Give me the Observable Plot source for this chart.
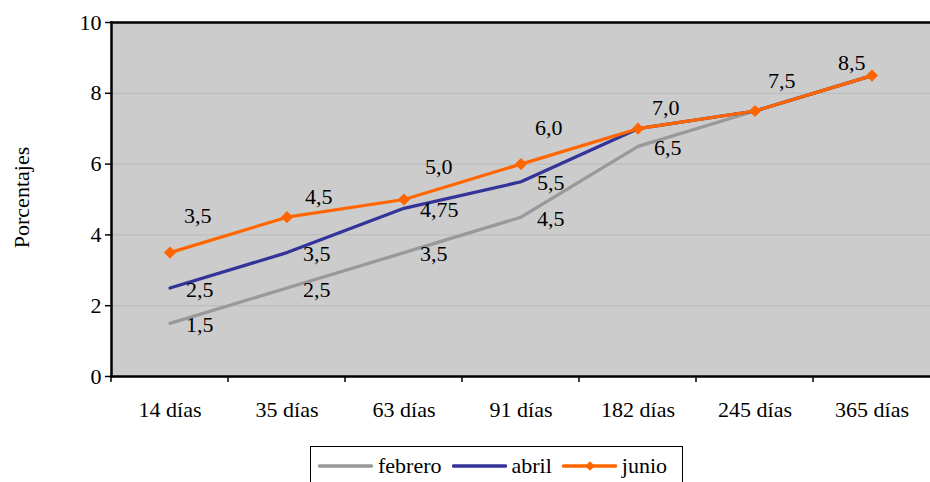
<!DOCTYPE html>
<html>
<head>
<meta charset="utf-8">
<script src="https://cdn.jsdelivr.net/npm/d3@7"></script>
<script src="https://cdn.jsdelivr.net/npm/@observablehq/plot@0.6"></script>
<style>
  body { margin: 0; background: #fff; font-family: 'Liberation Serif', 'Times New Roman', serif; }
  #chart svg { display: block; }
  #chart svg, #chart svg text { font-family: 'Liberation Serif', 'Times New Roman', serif !important; }
  .legend { position: absolute; left: 310px; top: 446px; width: 373px; height: 42px; border: 1px solid #000; box-sizing: border-box; display: flex; align-items: flex-start; padding-top: 6px; padding-left: 7px; font-size: 22px; color: #000; font-family: 'Liberation Serif', 'Times New Roman', serif; }
  .legend .item { display: flex; align-items: center; margin-right: 10px; }
  .legend .item svg { margin-right: 5px; }
  .legend .item span { line-height: 26px; }
</style>
</head>
<body>
<div id="chart"></div>
<div class="legend" id="legend"></div>
<script>
const categories = ["14 días", "35 días", "63 días", "91 días", "182 días", "245 días", "365 días"];
const febrero = [1.5, 2.5, 3.5, 4.5, 6.5, 7.5, 8.5];
const abril   = [2.5, 3.5, 4.75, 5.5, 7.0, 7.5, 8.5];
const junio   = [3.5, 4.5, 5.0, 6.0, 7.0, 7.5, 8.5];
const seriesNames = ["febrero", "abril", "junio"];
const seriesColors = ["#999999", "#333399", "#FF6600"];
const yTicks = [0, 2, 4, 6, 8, 10];
// how many leading points of each series carry a value label
const labeledCount = {febrero: 5, abril: 4, junio: 7};
// label nudges (pixels) for the junio labels, as placed in the original
const junioNudgeX = [14, 18, 21, 14, 14, 13, -34];
const junioNudgeY = [-37, -20, -33, -36, -21, -30, -13];

const fmt = v => (Number.isInteger(v * 10) ? v.toFixed(1) : String(v)).replace(".", ",");

const values = {febrero, abril, junio};
const rows = seriesNames.flatMap(s => categories.map((c, i) => ({serie: s, cat: c, v: values[s][i], i})));

const W = 930, H = 440, mL = 111, mR = 0, mT = 22, mB = 64;
const FS = 22;
const FONT = "'Liberation Serif', 'Times New Roman', serif";

const boundaryTicks = (index, scales, channels, dims) => {
  const g = d3.create("svg:g");
  const x = scales.x, y0 = dims.height - dims.marginBottom;
  for (const c of categories) {
    const px = x(c);
    g.append("line").attr("x1", px).attr("x2", px).attr("y1", y0).attr("y2", y0 + 6)
      .attr("stroke", "#000").attr("stroke-width", 1.5);
  }
  return g.node();
};

const labelMarks = seriesNames.map((s, k) => {
  const data = rows.filter(r => r.serie === s && r.i < labeledCount[s]);
  if (s === "junio") {
    return data.map(r => Plot.text([r], {
      x: "cat", y: "v", text: d => fmt(d.v), textAnchor: "start",
      dx: junioNudgeX[r.i], dy: junioNudgeY[r.i], fontSize: FS, fill: "#000"
    }));
  }
  return Plot.text(data, {x: "cat", y: "v", text: d => fmt(d.v), textAnchor: "start", dx: 16, dy: 1.5, fontSize: FS, fill: "#000"});
});

const chart = Plot.plot({
  width: W, height: H,
  marginLeft: mL, marginRight: mR, marginTop: mT, marginBottom: mB,
  style: {fontFamily: FONT, fontSize: FS + "px", color: "#000", background: "#fff", overflow: "visible"},
  x: {type: "band", domain: categories, padding: 0, label: null},
  y: {domain: [0, 10], label: null},
  color: {domain: seriesNames, range: seriesColors},
  marks: [
    Plot.frame({fill: "#cccccc", stroke: null}),
    Plot.ruleY(yTicks.filter(t => t > 0 && t < 10), {stroke: "#bdbdbd", strokeWidth: 1.2}),
    Plot.axisY({ticks: yTicks, tickSize: 6, tickPadding: 4, tickFormat: d => d, fontSize: FS, stroke: "#000", strokeWidth: 1.5, label: null}),
    Plot.axisX({tickSize: 0, tickPadding: 25, fontSize: FS, label: null}),
    boundaryTicks,
    Plot.frame({anchor: "top", stroke: "#000", strokeWidth: 2.5}),
    Plot.frame({anchor: "bottom", stroke: "#000", strokeWidth: 2.5}),
    Plot.frame({anchor: "left", stroke: "#000", strokeWidth: 2.5}),
    Plot.line(rows, {x: "cat", y: "v", z: "serie", stroke: "serie", strokeWidth: 3.2, strokeLinejoin: "round"}),
    Plot.dot(rows.filter(r => r.serie === "junio"), {x: "cat", y: "v", symbol: "diamond2", r: 5.5, fill: "#FF6600", stroke: null}),
    ...labelMarks.flat(),
    Plot.text(["Porcentajes"], {frameAnchor: "left", textAnchor: "middle", rotate: -90, dx: -90, dy: -2, fontSize: FS, fill: "#000"})
  ]
});
document.getElementById("chart").append(chart);

// legend
const legend = d3.select("#legend");
seriesNames.forEach((s, k) => {
  const item = legend.append("div").attr("class", "item");
  const sv = item.append("svg").attr("width", 55).attr("height", 14);
  sv.append("line").attr("x1", 1.5).attr("x2", 53.5).attr("y1", 7).attr("y2", 7)
    .attr("stroke", seriesColors[k]).attr("stroke-width", 3.5).attr("stroke-linecap", "round");
  if (s === "junio") {
    sv.append("path").attr("d", d3.symbol(d3.symbolDiamond2, 60)()).attr("transform", "translate(28,7)").attr("fill", seriesColors[k]);
  }
  item.append("span").text(s);
});
</script>
</body>
</html>
